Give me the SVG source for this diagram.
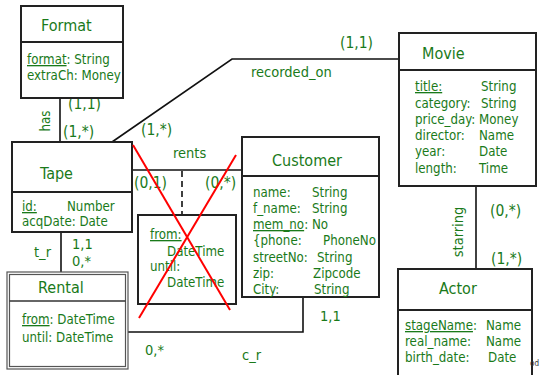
<svg xmlns="http://www.w3.org/2000/svg" width="540" height="375" viewBox="0 0 540 375">
  <style>
    text { font-family: 'DejaVu Sans Condensed', 'Liberation Sans', Arial, sans-serif; fill: #1a7a1a; }
    .title { font-size: 16px; }
    .attr { font-size: 13.2px; }
    .card { font-size: 15.5px; }
    .lbl { font-size: 14.5px; }
    .box { fill: #ffffff; stroke: #222222; stroke-width: 2; }
    .div { stroke: #222222; stroke-width: 2; }
    .dbl { fill: none; stroke: #555555; stroke-width: 1.2; }
    .link { fill: none; stroke: #111111; stroke-width: 1.6; }
    .u { text-decoration: underline; }
    .cross { stroke: #ff0000; stroke-width: 2; }
  </style>

  <!-- relationship connectors and their labels -->
  <g id="connectors">
    <line class="link" x1="60" y1="98" x2="60" y2="142"/>
    <polyline class="link" points="112,142 232,59 399,59"/>
    <line class="link" x1="132" y1="170" x2="243" y2="170"/>
    <line class="link" x1="182" y1="171" x2="182" y2="215" stroke-dasharray="6,4" stroke-width="2"/>
    <line class="link" x1="61" y1="232" x2="61" y2="272"/>
    <polyline class="link" points="128,332 303,332 303,297"/>
    <line class="link" x1="476" y1="186" x2="476" y2="269"/>

    <text class="attr" transform="translate(50,121) rotate(-90)" text-anchor="middle">has</text>
    <text class="card" x="68" y="109">(1,1)</text>
    <text class="card" x="63" y="137">(1,*)</text>
    <text class="card" x="141" y="135">(1,*)</text>
    <text class="card" x="340" y="48">(1,1)</text>
    <text class="lbl" x="251" y="77">recorded_on</text>
    <text class="lbl" x="173" y="158">rents</text>
    <text class="card" x="134" y="188">(0,1)</text>
    <text class="card" x="205" y="188">(0,*)</text>
    <text class="lbl" x="34" y="257">t_r</text>
    <text class="lbl" x="72" y="249">1,1</text>
    <text class="lbl" x="72" y="266">0,*</text>
    <text class="lbl" x="145" y="355">0,*</text>
    <text class="lbl" x="242" y="360">c_r</text>
    <text class="lbl" x="320" y="321">1,1</text>
    <text class="lbl" transform="translate(463,232) rotate(-90)" text-anchor="middle">starring</text>
    <text class="card" x="490" y="216">(0,*)</text>
    <text class="card" x="491" y="264">(1,*)</text>
  </g>

  <g id="format">
    <rect class="box" x="21" y="6" width="102" height="92"/>
    <line class="div" x1="21" y1="42" x2="123" y2="42"/>
    <text class="title" x="41" y="31">Format</text>
    <text class="attr" x="27" y="64"><tspan class="u">format</tspan>: String</text>
    <text class="attr" x="27" y="80">extraCh: Money</text>
  </g>

  <g id="tape">
    <rect class="box" x="12" y="142" width="120" height="90"/>
    <line class="div" x1="12" y1="192" x2="132" y2="192"/>
    <text class="title" x="40" y="179">Tape</text>
    <text class="attr" x="22" y="211"><tspan class="u">id:</tspan></text>
    <text class="attr" x="67" y="211">Number</text>
    <text class="attr" x="22" y="226">acqDate: Date</text>
  </g>

  <g id="rents-attributes">
    <rect class="box" x="138" y="215" width="98" height="89"/>
    <text class="attr" x="150" y="239"><tspan class="u">from:</tspan></text>
    <text class="attr" x="167" y="256">DateTime</text>
    <text class="attr" x="150" y="271">until:</text>
    <text class="attr" x="167" y="287">DateTime</text>
  </g>

  <g id="rents-removed">
    <line class="cross" x1="133" y1="145" x2="230" y2="310"/>
    <line class="cross" x1="236" y1="155" x2="139" y2="318"/>
  </g>

  <g id="rental">
    <rect x="7" y="272" width="121" height="97" fill="#ffffff"/>
    <rect class="dbl" x="7" y="272" width="121" height="97"/>
    <rect class="dbl" x="9.5" y="274.5" width="116" height="92"/>
    <line stroke="#333333" stroke-width="1.5" x1="9.5" y1="301" x2="125.5" y2="301"/>
    <text class="title" x="38" y="293">Rental</text>
    <text class="attr" x="22" y="324"><tspan class="u">from</tspan>: DateTime</text>
    <text class="attr" x="22" y="342">until: DateTime</text>
  </g>

  <g id="customer">
    <rect class="box" x="242" y="137" width="137" height="160"/>
    <line class="div" x1="242" y1="176" x2="379" y2="176"/>
    <text class="title" x="272" y="166">Customer</text>
    <text class="attr" x="253" y="197">name:</text>
    <text class="attr" x="312" y="197">String</text>
    <text class="attr" x="253" y="213">f_name:</text>
    <text class="attr" x="312" y="213">String</text>
    <text class="attr" x="253" y="229"><tspan class="u">mem_no</tspan>: No</text>
    <text class="attr" x="253" y="245">{phone:</text>
    <text class="attr" x="323" y="245">PhoneNo</text>
    <text class="attr" x="253" y="262">streetNo:</text>
    <text class="attr" x="317" y="262">String</text>
    <text class="attr" x="253" y="278">zip:</text>
    <text class="attr" x="313" y="278">Zipcode</text>
    <text class="attr" x="253" y="294">City:</text>
    <text class="attr" x="314" y="294">String</text>
  </g>

  <g id="movie">
    <rect class="box" x="399" y="33" width="137" height="153"/>
    <line class="div" x1="399" y1="70" x2="536" y2="70"/>
    <text class="title" x="422" y="59">Movie</text>
    <text class="attr" x="415" y="91"><tspan class="u">title:</tspan></text>
    <text class="attr" x="481" y="91">String</text>
    <text class="attr" x="415" y="108">category:</text>
    <text class="attr" x="481" y="108">String</text>
    <text class="attr" x="415" y="124">price_day: Money</text>
    <text class="attr" x="415" y="140">director:</text>
    <text class="attr" x="479" y="140">Name</text>
    <text class="attr" x="415" y="156">year:</text>
    <text class="attr" x="479" y="156">Date</text>
    <text class="attr" x="415" y="173">length:</text>
    <text class="attr" x="479" y="173">Time</text>
  </g>

  <g id="actor">
    <rect class="box" x="398" y="269" width="134" height="112"/>
    <line class="div" x1="398" y1="310" x2="532" y2="310"/>
    <text class="title" x="439" y="294">Actor</text>
    <text class="attr" x="405" y="330"><tspan class="u">stageName</tspan>:</text>
    <text class="attr" x="486" y="330">Name</text>
    <text class="attr" x="405" y="346">real_name:</text>
    <text class="attr" x="486" y="346">Name</text>
    <text class="attr" x="405" y="362">birth_date:</text>
    <text class="attr" x="488" y="362">Date</text>
  </g>

  <text x="530" y="366" style="font-size:8px; fill:#333333">od</text>
</svg>
